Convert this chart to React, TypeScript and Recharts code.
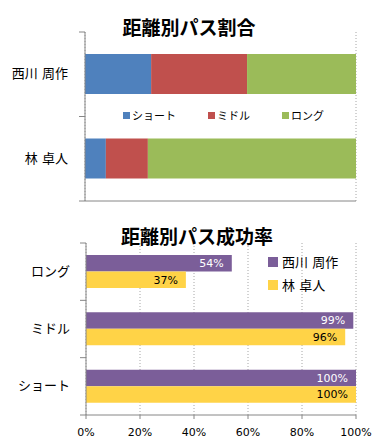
import {
  BarChart,
  Bar,
  XAxis,
  YAxis,
  CartesianGrid,
  Legend,
  LabelList,
} from "recharts";

// 距離別パス割合 (stacked, %)
const PLAYERS = ["西川 周作", "林 卓人"];
const SHARE_SHORT = [24.4, 7.7];
const SHARE_MIDDLE = [35.4, 15.5];
const SHARE_LONG = [40.2, 76.8];

// 距離別パス成功率 (%)
const DISTANCES = ["ロング", "ミドル", "ショート"];
const SUCCESS_NISHIKAWA = [54, 99, 100];
const SUCCESS_HAYASHI = [37, 96, 100];

const PCT_TICKS = [0, 20, 40, 60, 80, 100];

const AXIS = "#868686";
const GRID = "#a6a6a6";
const FONT = "'DejaVu Sans', 'Noto Sans CJK JP', sans-serif";

const shareData = PLAYERS.map((name, i) => ({
  name,
  short: SHARE_SHORT[i],
  middle: SHARE_MIDDLE[i],
  long: SHARE_LONG[i],
}));

const successData = DISTANCES.map((name, i) => ({
  name,
  nishikawa: SUCCESS_NISHIKAWA[i],
  hayashi: SUCCESS_HAYASHI[i],
}));

const shareSeries = [
  { key: "short", label: "ショート", color: "#4F81BD" },
  { key: "middle", label: "ミドル", color: "#C0504D" },
  { key: "long", label: "ロング", color: "#9BBB59" },
];

const successSeries = [
  { key: "nishikawa", label: PLAYERS[0], color: "#7B5E99", text: "#ffffff" },
  { key: "hayashi", label: PLAYERS[1], color: "#FFD347", text: "#000000" },
];

// category tick with Excel style tick marks between categories
const makeCatTick =
  (axisX: number, gap: number, count: number, band: number) => (props: any) => {
    const { y, payload, index } = props;
    const half = payload?.offset || band / 2;
    return (
      <g>
        <line x1={axisX - 6} x2={axisX} y1={y - half} y2={y - half} stroke={AXIS} />
        {index === count - 1 && (
          <line x1={axisX - 6} x2={axisX} y1={y + half} y2={y + half} stroke={AXIS} />
        )}
        <text
          x={axisX - gap}
          y={y}
          dy="0.3em"
          textAnchor="end"
          fontSize={13}
          fill="#000"
          fontFamily={FONT}
        >
          {payload.value}
        </text>
      </g>
    );
  };

const ShareLegend = () => (
  <div style={{ display: "flex", alignItems: "center", gap: 32, fontSize: 11 }}>
    {shareSeries.map((s) => (
      <div key={s.key} style={{ display: "flex", alignItems: "center", gap: 2 }}>
        <span style={{ width: 7, height: 7, background: s.color, display: "inline-block" }} />
        <span>{s.label}</span>
      </div>
    ))}
  </div>
);

const SuccessLegend = () => (
  <div style={{ fontSize: 13 }}>
    {successSeries.map((s) => (
      <div key={s.key} style={{ display: "flex", alignItems: "center", gap: 4, height: 23 }}>
        <span style={{ width: 10, height: 10, background: s.color, display: "inline-block" }} />
        <span>{s.label}</span>
      </div>
    ))}
  </div>
);

const titleStyle = {
  position: "absolute" as const,
  fontSize: 19,
  fontWeight: "bold" as const,
  fontFamily: FONT,
  whiteSpace: "nowrap" as const,
  transform: "translate(-50%, -50%)",
  lineHeight: 1,
};

export default function App() {
  return (
    <div
      style={{
        position: "absolute",
        left: 0,
        top: 0,
        width: 380,
        height: 443,
        background: "#fff",
        fontFamily: FONT,
      }}
    >
      {/* top chart */}
      <div style={{ position: "absolute", left: 0, top: 0 }}>
        <BarChart
          width={380}
          height={215}
          data={shareData}
          layout="vertical"
          margin={{ top: 32, right: 24, left: 0, bottom: 8 }}
        >
          <CartesianGrid vertical horizontal={false} stroke={GRID} strokeDasharray="1 2" />
          <XAxis
            type="number"
            domain={[0, 100]}
            ticks={PCT_TICKS}
            tick={false}
            tickSize={4}
            height={6}
            stroke={AXIS}
          />
          <YAxis
            type="category"
            dataKey="name"
            width={85}
            stroke={AXIS}
            tickLine={false}
            tick={makeCatTick(85, 17, PLAYERS.length, 169 / PLAYERS.length)}
          />
          <Legend
            layout="horizontal"
            verticalAlign="middle"
            align="center"
            content={<ShareLegend />}
            wrapperStyle={{ position: "absolute", top: 107, left: 123, width: "auto" }}
          />
          {shareSeries.map((s) => (
            <Bar
              key={s.key}
              dataKey={s.key}
              stackId="a"
              fill={s.color}
              barSize={40}
              isAnimationActive={false}
            />
          ))}
        </BarChart>
        <div style={{ ...titleStyle, left: 189, top: 28 }}>距離別パス割合</div>
      </div>

      {/* bottom chart */}
      <div style={{ position: "absolute", left: 0, top: 215 }}>
        <BarChart
          width={380}
          height={228}
          data={successData}
          layout="vertical"
          barGap={0}
          margin={{ top: 28, right: 24, left: 0, bottom: 0 }}
        >
          <CartesianGrid vertical horizontal={false} stroke={GRID} strokeDasharray="1 2" />
          <XAxis
            type="number"
            domain={[0, 100]}
            ticks={PCT_TICKS}
            tickFormatter={(v) => `${v}%`}
            tickSize={4}
            tickMargin={9}
            height={28}
            stroke={AXIS}
            tick={{ fontSize: 11, fill: "#000", fontFamily: FONT }}
          />
          <YAxis
            type="category"
            dataKey="name"
            width={86}
            stroke={AXIS}
            tickLine={false}
            tick={makeCatTick(86, 16, DISTANCES.length, 172 / DISTANCES.length)}
          />
          <Legend
            layout="horizontal"
            verticalAlign="middle"
            align="center"
            content={<SuccessLegend />}
            wrapperStyle={{ position: "absolute", top: 35, left: 268, width: "auto" }}
          />
          {successSeries.map((s) => (
            <Bar
              key={s.key}
              dataKey={s.key}
              fill={s.color}
              barSize={16.5}
              isAnimationActive={false}
            >
              <LabelList
                dataKey={s.key}
                position="insideRight"
                offset={8}
                fill={s.text}
                fontSize={11}
                fontFamily={FONT}
                formatter={(v: any) => `${v}%`}
              />
            </Bar>
          ))}
        </BarChart>
        <div style={{ ...titleStyle, left: 197, top: 22 }}>距離別パス成功率</div>
      </div>
    </div>
  );
}
